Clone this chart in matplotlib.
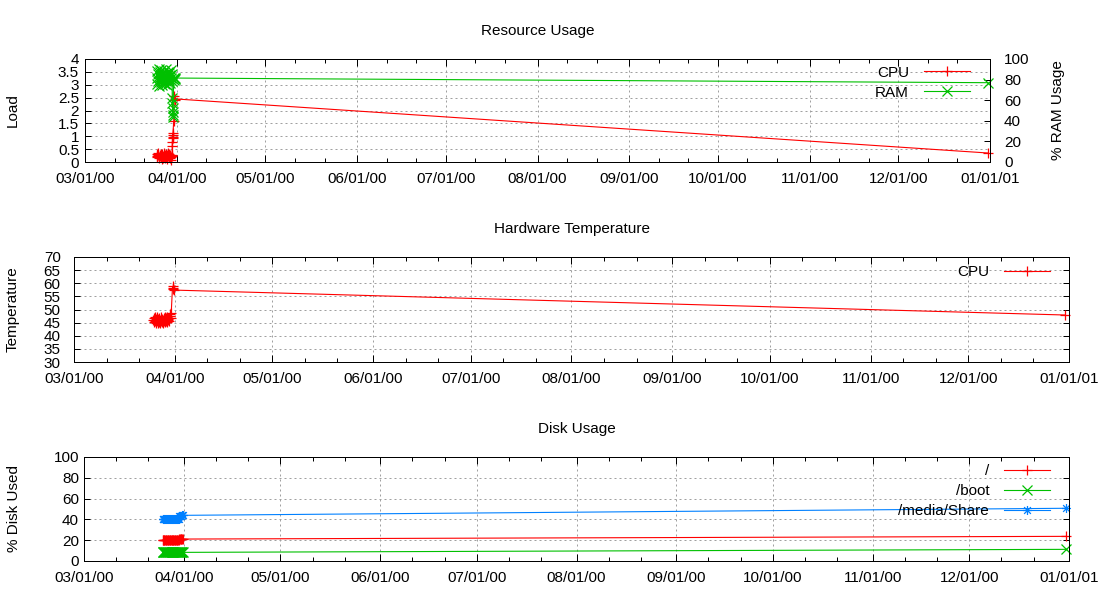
import datetime as dt
import numpy as np
import matplotlib
matplotlib.use("Agg")
import matplotlib.pyplot as plt
import matplotlib.dates as mdates
from matplotlib.path import Path
from matplotlib.ticker import MultipleLocator, FormatStrFormatter

plt.rcParams['font.family'] = ['Liberation Sans', 'DejaVu Sans']
plt.rcParams['font.size'] = 11

START = dt.datetime(2000, 3, 1)
END = dt.datetime(2001, 1, 1)

# ---------------- data (days since 03/01/00) ----------------
res_days = [24.20, 24.35, 24.50, 24.65, 24.80, 24.95, 25.10, 25.25, 25.40, 25.55,
            25.70, 25.85, 26.00, 26.15, 26.30, 26.45, 26.60, 26.75, 26.90, 27.05,
            27.20, 27.35, 27.50, 27.65, 27.80, 27.95, 28.10, 28.25, 28.40, 28.55,
            28.70, 28.85, 29.00, 29.15, 29.30, 29.45,
            29.50, 29.55, 29.60, 29.65, 29.70, 29.75, 30.00, 30.20, 30.35, 30.50,
            305.2]
cpu_load = [0.22, 0.31, 0.18, 0.27, 0.35, 0.20, 0.14, 0.29, 0.24, 0.33,
            0.19, 0.26, 0.12, 0.30, 0.23, 0.17, 0.34, 0.21, 0.28, 0.15,
            0.25, 0.32, 0.20, 0.11, 0.27, 0.22, 0.36, 0.18, 0.24, 0.30,
            0.16, 0.26, 0.21, 0.08, 0.29, 0.23,
            0.62, 0.78, 1.05, 0.92, 0.98, 1.12, 1.60, 2.58, 2.40, 2.45,
            0.35]
ram_pct = [82, 88, 76, 85, 79, 90, 74, 83, 87, 78,
           81, 89, 75, 84, 80, 86, 77, 88, 82, 76,
           85, 79, 90, 83, 75, 87, 81, 78, 86, 80,
           84, 77, 89, 82, 79, 85,
           62, 57, 52, 49, 44, 46, 80, 82, 81, 81.5,
           77]

temp_days = [24.40, 24.55, 24.70, 24.85, 25.00, 25.15, 25.30, 25.45, 25.60, 25.75,
             25.90, 26.05, 26.20, 26.35, 26.50, 26.65, 26.80, 26.95, 27.10, 27.25,
             27.40, 27.55, 27.70, 27.85, 28.00, 28.15, 28.30, 28.45, 28.60, 28.75,
             28.90, 29.05, 29.20, 29.35, 29.50, 29.65, 29.80, 29.90,
             30.30, 30.40, 30.50, 30.60,
             304.8]
cpu_temp = [46.0, 45.2, 46.8, 45.5, 47.0, 44.8, 46.2, 45.8, 47.2, 45.0,
            46.5, 45.4, 46.9, 44.9, 46.1, 45.7, 47.1, 45.3, 46.4, 45.9,
            44.8, 46.7, 45.6, 47.0, 45.1, 46.3, 45.8, 46.6, 45.2, 47.3,
            45.9, 46.4, 45.5, 46.8, 48.2, 47.5, 46.9, 48.6,
            58.8, 58.3, 57.8, 57.4,
            47.9]

disk_days = [24.40, 24.60, 24.80, 25.00, 25.20, 25.40, 25.60, 25.80, 26.00, 26.20,
             26.40, 26.60, 26.80, 27.00, 27.20, 27.40, 27.60, 27.80, 28.00, 28.20,
             28.40, 28.60, 28.80, 29.00, 29.20, 29.40,
             29.60, 29.80, 30.00, 30.20, 30.40, 30.60,
             305.0]
disk_root = [20.0, 20.0, 20.0, 20.0, 20.0, 20.0, 20.0, 20.0, 20.0, 20.0,
             20.0, 20.0, 20.0, 20.0, 20.0, 20.0, 20.0, 20.0, 20.0, 20.0,
             20.0, 20.0, 20.0, 20.0, 20.0, 20.0,
             21.1, 21.1, 21.1, 21.1, 21.1, 21.1,
             23.7]
disk_boot = [8.3, 8.3, 8.3, 8.3, 8.3, 8.3, 8.3, 8.3, 8.3, 8.3,
             8.3, 8.3, 8.3, 8.3, 8.3, 8.3, 8.3, 8.3, 8.3, 8.3,
             8.3, 8.3, 8.3, 8.3, 8.3, 8.3,
             8.3, 8.3, 8.3, 8.3, 8.3, 8.3,
             11.2]
disk_share = [40.6, 40.6, 40.6, 40.6, 40.6, 40.6, 40.6, 40.6, 40.6, 40.6,
              40.6, 40.6, 40.6, 40.6, 40.6, 40.6, 40.6, 40.6, 40.6, 40.6,
              40.6, 40.6, 40.6, 40.6, 40.6, 40.6,
              43.6, 43.6, 43.6, 43.6, 43.9, 43.9,
              50.7]

# ---------------- style ----------------
RED = '#ff0000'
GREEN = '#00c000'
BLUE = '#0080ff'
GRID = '#a0a0a0'
PX = 0.72  # one pixel in points

star = Path([(-1, 0), (1, 0), (0, -1), (0, 1),
             (-0.75, -0.75), (0.75, 0.75), (-0.75, 0.75), (0.75, -0.75)],
            [Path.MOVETO, Path.LINETO] * 4)

x0 = mdates.date2num(START)


def to_x(days):
    return x0 + np.asarray(days, dtype=float)


def style_axes(ax, ypad):
    ax.set_xlim(mdates.date2num(START), mdates.date2num(END))
    ax.xaxis.set_major_locator(mdates.MonthLocator())
    ax.xaxis.set_major_formatter(mdates.DateFormatter('%m/%d/%y'))
    ax.xaxis.set_minor_locator(mdates.DayLocator(bymonthday=[11, 21]))
    ax.tick_params(axis='x', which='both', direction='in', top=True, bottom=True,
                   width=PX, pad=7)
    ax.tick_params(axis='x', which='major', length=5)
    ax.tick_params(axis='x', which='minor', length=3)
    ax.tick_params(axis='y', which='both', direction='in', length=4, width=PX, pad=ypad)
    ax.grid(True, which='major', color=GRID, linestyle=(0, (2, 3)), linewidth=PX)
    ax.set_axisbelow(True)
    for s in ax.spines.values():
        s.set_linewidth(PX)


W, H = 1100, 600
fig = plt.figure(figsize=(W / 100, H / 100), dpi=100)


def px_axes(left, right, top, bottom):
    return fig.add_axes([left / W, (H - bottom) / H, (right - left) / W, (bottom - top) / H])


line_kw = dict(linewidth=0.8, markersize=6.5, markeredgewidth=0.9, clip_on=False)
leg_kw = dict(loc='upper right', frameon=False, markerfirst=False, numpoints=1,
              handlelength=3.0, handletextpad=1.0, labelspacing=0.38,
              borderpad=0, borderaxespad=0)

# ---------------- Resource Usage ----------------
ax1 = px_axes(85, 990, 59, 162)
style_axes(ax1, 4.3)
ax1.set_ylim(0, 4)
ax1.yaxis.set_major_locator(MultipleLocator(0.5))
ax1.yaxis.set_major_formatter(FormatStrFormatter('%g'))
ax1.tick_params(axis='y', right=False)
l_cpu, = ax1.plot(to_x(res_days), cpu_load, color=RED, marker='+', label='CPU', **line_kw)
ax1.set_ylabel('Load', va='center')
ax1.yaxis.set_label_coords((13 - 85) / 905, 0.5)
ax1.set_title('Resource Usage', pad=17, fontsize=11)

ax1r = ax1.twinx()
ax1r.set_ylim(0, 100)
ax1r.yaxis.set_major_locator(MultipleLocator(20))
ax1r.tick_params(axis='y', direction='in', length=4, width=PX, pad=10)
l_ram, = ax1r.plot(to_x(res_days), ram_pct, color=GREEN, marker='x', label='RAM', **line_kw)
ax1r.set_ylabel('% RAM Usage', va='center')
ax1r.yaxis.set_label_coords((1058 - 85) / 905, 0.5)
for s in ax1r.spines.values():
    s.set_linewidth(PX)
ax1r.legend([l_cpu, l_ram], ['CPU', 'RAM'], bbox_to_anchor=(0.978, 0.935), **leg_kw)

# ---------------- Hardware Temperature ----------------
ax2 = px_axes(74, 1069, 257, 362)
style_axes(ax2, 9.6)
ax2.set_ylim(30, 70)
ax2.yaxis.set_major_locator(MultipleLocator(5))
ax2.tick_params(axis='y', right=True)
ax2.plot(to_x(temp_days), cpu_temp, color=RED, marker='+', label='CPU', **line_kw)
ax2.set_ylabel('Temperature', va='center')
ax2.yaxis.set_label_coords((13 - 74) / 995, 0.5)
ax2.set_title('Hardware Temperature', pad=17, fontsize=11)
ax2.legend(bbox_to_anchor=(0.981, 0.92), **leg_kw)

# ---------------- Disk Usage ----------------
ax3 = px_axes(84, 1069, 457, 561)
style_axes(ax3, 3.6)
ax3.set_ylim(0, 100)
ax3.yaxis.set_major_locator(MultipleLocator(20))
ax3.tick_params(axis='y', right=True)
ax3.plot(to_x(disk_days), disk_root, color=RED, marker='+', label='/', **line_kw)
ax3.plot(to_x(disk_days), disk_boot, color=GREEN, marker='x', label='/boot', **line_kw)
ax3.plot(to_x(disk_days), disk_share, color=BLUE, marker=star, markerfacecolor='none',
         label='/media/Share', **line_kw)
ax3.set_ylabel('% Disk Used', va='center')
ax3.yaxis.set_label_coords((14 - 84) / 985, 0.5)
ax3.set_title('Disk Usage', pad=17, fontsize=11)
ax3.legend(bbox_to_anchor=(0.981, 0.93), **leg_kw)

fig.savefig('out.png', dpi=100)
